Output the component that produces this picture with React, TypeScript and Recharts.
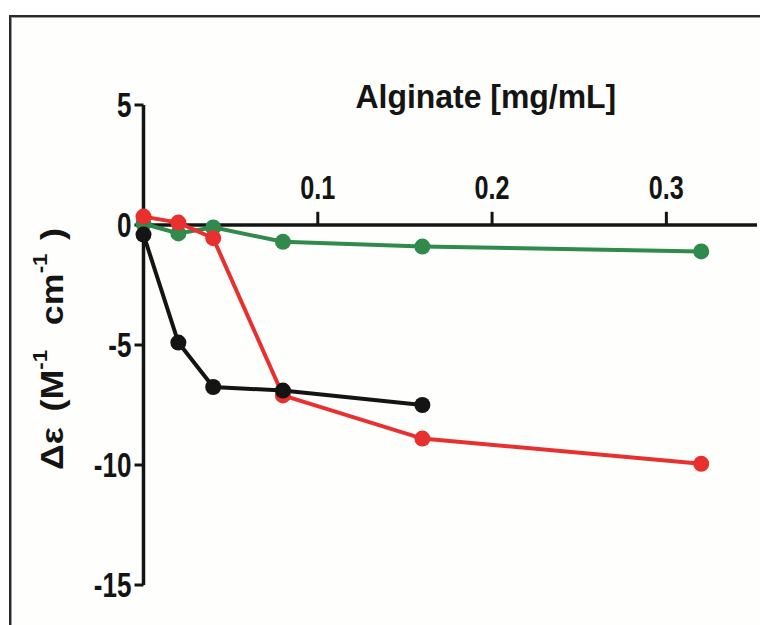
import React from 'react';
import { LineChart, Line, XAxis, YAxis, ReferenceLine } from 'recharts';

const alginate = [0, 0.02, 0.04, 0.08, 0.16, 0.32];
const blackValues = [-0.4, -4.9, -6.75, -6.9, -7.5];
const redValues = [0.35, 0.1, -0.55, -7.1, -8.9, -9.95];
const greenValues = [0.05, -0.35, -0.1, -0.7, -0.9, -1.1];
const xTicks = [0.1, 0.2, 0.3];
const yTicks = [-15, -10, -5, 0, 5];
const xLabel = 'Alginate [mg/mL]';

const BLACK = '#141414';
const RED = '#e8302e';
const GREEN = '#2f8a4c';
const FONT = '"Liberation Sans", Arial, Helvetica, sans-serif';
const SX = 0.84;
const SY = 1.12;

const toPoints = (vals: number[]) => vals.map((v, i) => ({ x: alginate[i], y: v }));

const stretch = (x: number, y: number, sx: number, sy: number) =>
  `translate(${x},${y}) scale(${sx},${sy}) translate(${-x},${-y})`;

const XTitle = (props: any) => {
  const vb = props.viewBox || {};
  const x = vb.x + vb.width * 0.558;
  const y = vb.y + 3;
  return (
    <text
      x={x}
      y={y}
      transform={stretch(x, y, 1.03, 1.1)}
      textAnchor="middle"
      fontFamily={FONT}
      fontWeight="bold"
      fontSize={31}
      fill={BLACK}
    >
      {xLabel}
    </text>
  );
};

const YTitle = (props: any) => {
  const vb = props.viewBox || {};
  const cx = vb.x + 52;
  const cy = vb.y + vb.height / 2 + 4;
  return (
    <text
      x={cx}
      y={cy}
      transform={`rotate(-90, ${cx}, ${cy}) ${stretch(cx, cy, 1.12, 1)}`}
      textAnchor="middle"
      dominantBaseline="central"
      fontFamily={FONT}
      fontWeight="bold"
      fontSize={32}
      fill={BLACK}
    >
      <tspan>Δε</tspan>
      <tspan dx={14}>(M</tspan>
      <tspan fontSize={20} dy={-13}>-1</tspan>
      <tspan dy={13} dx={22}>cm</tspan>
      <tspan fontSize={20} dy={-13}>-1</tspan>
      <tspan dy={13} dx={12}>)</tspan>
    </text>
  );
};

const YTick = (props: any) => {
  const { x, y, payload } = props;
  return (
    <text
      x={x}
      y={y}
      transform={stretch(x, y, SX, SY)}
      textAnchor="end"
      dominantBaseline="central"
      fontFamily={FONT}
      fontWeight="bold"
      fontSize={31}
      fill={BLACK}
    >
      {payload.value}
    </text>
  );
};

const XTickLabel = (props: any) => {
  const vb = props.viewBox || {};
  const x = vb.x + (vb.width || 0) / 2;
  const y = vb.y - 13;
  return (
    <text
      x={x}
      y={y}
      transform={stretch(x, y, SX, SY)}
      textAnchor="middle"
      fontFamily={FONT}
      fontWeight="bold"
      fontSize={30}
      fill={BLACK}
    >
      {props.value}
    </text>
  );
};

export default function App() {
  return (
    <div style={{ position: 'absolute', left: 0, top: 0, width: 760, height: 625, overflow: 'hidden', background: '#ffffff' }}>
      <div
        style={{
          position: 'absolute',
          left: 9,
          top: 15,
          width: 800,
          height: 700,
          borderTop: '2px solid #2a2a2a',
          borderLeft: '2px solid #2a2a2a',
          boxShadow: 'inset 1px 1px 0 #9a9a9a',
          background: '#fefefc',
        }}
      />
      <div style={{ position: 'absolute', left: 0, top: 0 }}>
        <LineChart width={760} height={625} margin={{ top: 105, right: 3, bottom: 40, left: 0 }}>
          <XAxis
            type="number"
            dataKey="x"
            domain={[0, 0.352]}
            orientation="top"
            height={0}
            axisLine={false}
            tickLine={false}
            tick={false}
          />
          <YAxis
            type="number"
            dataKey="y"
            domain={[-15, 5]}
            ticks={yTicks}
            interval={0}
            width={143.5}
            axisLine={{ stroke: BLACK, strokeWidth: 3.5 }}
            tickLine={{ stroke: BLACK, strokeWidth: 3 }}
            tickSize={9}
            tickMargin={3}
            tick={<YTick />}
            label={<YTitle />}
          />
          <ReferenceLine y={5} stroke="none" strokeOpacity={0} label={<XTitle />} />
          <ReferenceLine y={0} stroke={BLACK} strokeWidth={3.5} />
          {xTicks.map((t) => (
            <ReferenceLine
              key={t}
              segment={[{ x: t, y: 0 }, { x: t, y: 0.55 }]}
              stroke={BLACK}
              strokeWidth={3}
              label={<XTickLabel value={t} />}
            />
          ))}
          <Line
            data={toPoints(greenValues)}
            dataKey="y"
            stroke={GREEN}
            strokeWidth={4}
            dot={{ r: 8, fill: GREEN, stroke: GREEN, strokeWidth: 0 }}
            isAnimationActive={false}
          />
          <Line
            data={toPoints(redValues)}
            dataKey="y"
            stroke={RED}
            strokeWidth={4}
            dot={{ r: 8, fill: RED, stroke: RED, strokeWidth: 0 }}
            isAnimationActive={false}
          />
          <Line
            data={toPoints(blackValues)}
            dataKey="y"
            stroke={BLACK}
            strokeWidth={4}
            dot={{ r: 8, fill: BLACK, stroke: BLACK, strokeWidth: 0 }}
            isAnimationActive={false}
          />
        </LineChart>
      </div>
    </div>
  );
}
